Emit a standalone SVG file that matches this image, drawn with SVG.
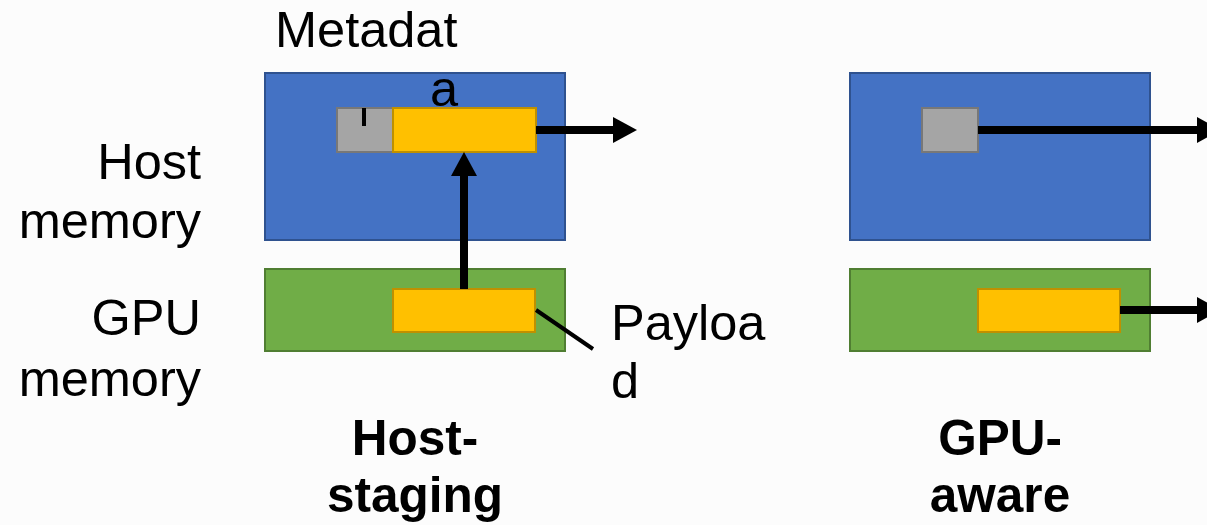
<svg xmlns="http://www.w3.org/2000/svg" width="1207" height="525" viewBox="0 0 1207 525">
  <defs>
    <style>
      .host { fill: #4472C4; stroke: #2F528F; stroke-width: 2; }
      .gpu { fill: #70AD47; stroke: #507E32; stroke-width: 2; }
      .meta { fill: #A5A5A5; stroke: #787878; stroke-width: 2; }
      .data { fill: #FFC000; stroke: #BF9000; stroke-width: 2; }
      .lbl { font-family: "Liberation Sans", Arial, sans-serif; font-size: 50.5px; fill: #000; }
      .cap { font-family: "Liberation Sans", Arial, sans-serif; font-size: 49.5px; font-weight: bold; fill: #000; text-anchor: middle; }
      .flow { stroke: #000; stroke-width: 8; fill: none; marker-end: url(#head); }
      .lead { stroke: #000; stroke-width: 4; fill: none; }
    </style>
    <marker id="head" viewBox="0 0 24 26" refX="0" refY="13" markerWidth="24" markerHeight="26" markerUnits="userSpaceOnUse" orient="auto">
      <path d="M0,0 L24,13 L0,26 Z" fill="#000"/>
    </marker>
  </defs>

  <rect width="1207" height="525" fill="#FCFCFC"/>

  <!-- row labels -->
  <g id="row-labels" class="lbl" text-anchor="end">
    <text x="201" y="179">Host</text>
    <text x="201" y="238">memory</text>
    <text x="201" y="335">GPU</text>
    <text x="201" y="396">memory</text>
  </g>

  <!-- host-staging path -->
  <g id="hs-host-memory">
    <rect class="host" x="265" y="73" width="300" height="167"/>
  </g>
  <g id="hs-gpu-memory">
    <rect class="gpu" x="265" y="269" width="300" height="82"/>
  </g>
  <g id="hs-metadata">
    <rect class="meta" x="337" y="108" width="56" height="44"/>
  </g>
  <g id="hs-staged-payload">
    <rect class="data" x="393" y="108" width="143" height="44"/>
  </g>
  <g id="hs-gpu-payload">
    <rect class="data" x="393" y="289" width="142" height="43"/>
  </g>
  <g id="metadata-label">
    <text class="lbl" x="275" y="47">Metadat</text>
    <text class="lbl" x="430" y="106">a</text>
  </g>
  <g id="payload-label">
    <text class="lbl" x="611" y="340">Payloa</text>
    <text class="lbl" x="611" y="398">d</text>
  </g>

  <!-- GPU-aware path -->
  <g id="ga-host-memory">
    <rect class="host" x="850" y="73" width="300" height="167"/>
  </g>
  <g id="ga-gpu-memory">
    <rect class="gpu" x="850" y="269" width="300" height="82"/>
  </g>
  <g id="ga-metadata">
    <rect class="meta" x="922" y="108" width="56" height="44"/>
  </g>
  <g id="ga-payload">
    <rect class="data" x="978" y="289" width="142" height="43"/>
  </g>

  <!-- connectors -->
  <g id="connectors">
    <line class="lead" x1="364" y1="108" x2="364" y2="126"/>
    <line class="lead" x1="536" y1="310" x2="593" y2="349"/>
    <line class="flow" x1="464" y1="289" x2="464" y2="176"/>
    <line class="flow" x1="536" y1="130" x2="613" y2="130"/>
    <line class="flow" x1="978" y1="130" x2="1197" y2="130"/>
    <line class="flow" x1="1120" y1="310" x2="1197" y2="310"/>
  </g>

  <!-- captions -->
  <g id="captions" class="cap">
    <text x="415" y="455">Host-</text>
    <text x="415" y="512">staging</text>
    <text x="1000" y="455">GPU-</text>
    <text x="1000" y="512">aware</text>
  </g>
</svg>
